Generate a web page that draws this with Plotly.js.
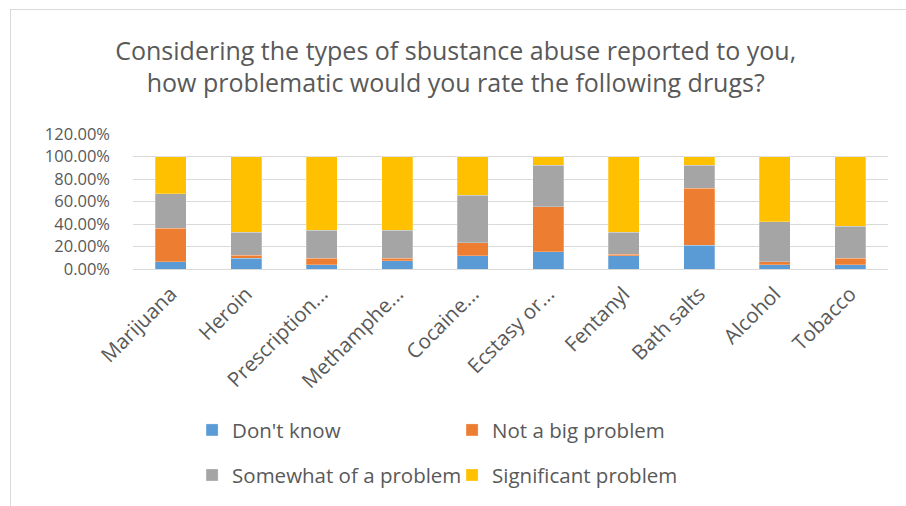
<!DOCTYPE html>
<html>
<head>
<meta charset="utf-8">
<script src="https://cdn.plot.ly/plotly-3.0.1.min.js"></script>
<style>
html,body{margin:0;padding:0;background:#fff;}
#wrap{position:relative;width:906px;height:506px;overflow:hidden;}
#chart{width:906px;height:506px;}
#frame{position:absolute;left:10px;top:9px;width:1000px;height:1000px;border-top:1px solid #d9d9d9;border-left:1px solid #d9d9d9;pointer-events:none;}
</style>
</head>
<body>
<div id="wrap"><div id="chart"></div><div id="frame"></div></div>
<script>
const categories = ["Marijuana","Heroin","Prescription...","Methamphe...","Cocaine...","Ecstasy or...","Fentanyl","Bath salts","Alcohol","Tobacco"];
const dontKnow    = [6.3, 9.6, 3.9, 7.5, 11.6, 15.2, 11.6, 21.2, 3.9, 3.9];
const notBig      = [29.8, 2.6, 5.7, 2.1, 11.7, 40.3, 1.5, 50.4, 2.4, 5.7];
const somewhat    = [30.8, 20.3, 25.0, 25.0, 42.4, 36.7, 19.4, 20.6, 35.5, 28.6];
const significant = [33.1, 67.5, 65.4, 65.4, 34.3, 7.8, 67.5, 7.8, 58.2, 61.8];
const seriesNames = ["Don't know","Not a big problem","Somewhat of a problem","Significant problem"];
const colors = ["#5B9BD5","#ED7D31","#A5A5A5","#FFC000"];
const yTicks = [0,20,40,60,80,100,120];

const FONT = "'Open Sans', sans-serif";
const TXT = "#595959";
const data = [dontKnow, notBig, somewhat, significant].map((v,i)=>({
  type:"bar", x:categories, y:v, name:seriesNames[i],
  marker:{color:colors[i], line:{color:"rgba(255,255,255,0.5)", width:0.5}},
  legend: i<2 ? "legend" : "legend2",
  hoverinfo:"none"
}));

const legendBase = {orientation:"h", xref:"container", yref:"container", xanchor:"left", yanchor:"middle",
  traceorder:"normal",
  font:{family:FONT, size:20.5, color:TXT}, entrywidth:215, entrywidthmode:"pixels", bgcolor:"rgba(0,0,0,0)", itemclick:false};

const layout = {
  width:906, height:506,
  margin:{l:133, r:18, t:134, b:237},
  paper_bgcolor:"#fff", plot_bgcolor:"#fff",
  barmode:"stack", bargap:0.59,
  showlegend:true,
  title:{text:"Considering the types of sbustance abuse reported to you,<br>how problematic would you rate the following drugs?",
    font:{family:FONT, size:25, color:TXT}, x:0.503, xanchor:"center", y:0.882, yanchor:"middle", yref:"container"},
  xaxis:{type:"category", tickangle:-45, tickfont:{family:FONT, size:20.5, color:TXT}, ticklabelstandoff:8,
    showgrid:false, zeroline:false, showline:false, ticks:"", automargin:false},
  yaxis:{range:[0,120], tickvals:yTicks, ticktext:yTicks.map(t=>t.toFixed(2)+"%"),
    tickfont:{family:FONT, size:16.5, color:TXT}, gridcolor:"#d9d9d9", gridwidth:1, ticklabelstandoff:22,
    zeroline:true, zerolinecolor:"#d9d9d9", zerolinewidth:1, showline:false, ticks:"", ticklen:0, automargin:false},
  legend: Object.assign({}, legendBase, {x:0.212, y:0.150}),
  legend2: Object.assign({}, legendBase, {x:0.212, y:0.061})
};
Plotly.newPlot("chart", data, layout, {displayModeBar:false, staticPlot:true});
</script>
</body>
</html>
